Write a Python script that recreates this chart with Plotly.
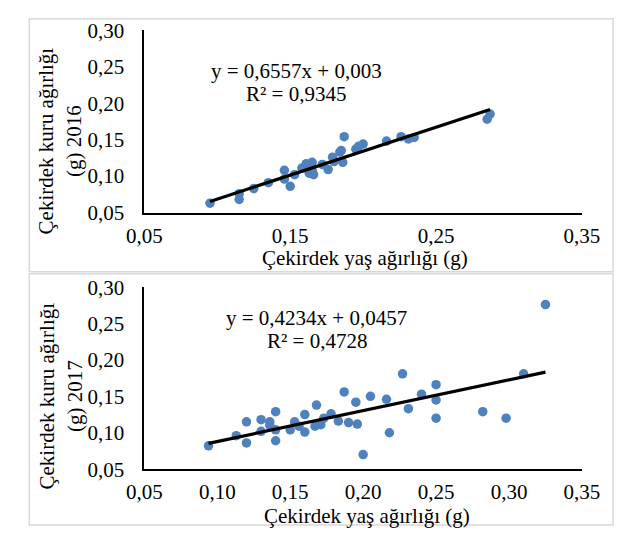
import plotly.graph_objects as go

# 2016 kernel weights (g): fresh vs dry
x2016 = [0.095, 0.115, 0.115, 0.125, 0.135, 0.146, 0.146, 0.150, 0.153, 0.158,
         0.161, 0.163, 0.165, 0.165, 0.166, 0.172, 0.176, 0.179, 0.180, 0.184,
         0.185, 0.187, 0.186, 0.195, 0.197, 0.200, 0.216, 0.226, 0.231, 0.235,
         0.285, 0.287]
y2016 = [0.063, 0.076, 0.068, 0.083, 0.091, 0.108, 0.096, 0.086, 0.102, 0.111,
         0.117, 0.104, 0.119, 0.108, 0.102, 0.116, 0.109, 0.126, 0.120, 0.133,
         0.135, 0.154, 0.119, 0.137, 0.141, 0.144, 0.148, 0.154, 0.151, 0.153,
         0.178, 0.185]

# 2017 kernel weights (g): fresh vs dry
x2017 = [0.094, 0.113, 0.120, 0.120, 0.130, 0.130, 0.136, 0.136, 0.140, 0.140,
         0.140, 0.150, 0.153, 0.156, 0.160, 0.160, 0.167, 0.168, 0.171, 0.173,
         0.178, 0.183, 0.187, 0.190, 0.195, 0.196, 0.200, 0.205, 0.216, 0.218,
         0.227, 0.231, 0.240, 0.250, 0.250, 0.250, 0.282, 0.298, 0.310, 0.325]
y2017 = [0.082, 0.096, 0.115, 0.086, 0.118, 0.102, 0.115, 0.110, 0.129, 0.104,
         0.089, 0.104, 0.115, 0.109, 0.125, 0.101, 0.109, 0.138, 0.111, 0.120,
         0.126, 0.116, 0.156, 0.114, 0.142, 0.112, 0.070, 0.150, 0.146, 0.100,
         0.181, 0.133, 0.153, 0.166, 0.145, 0.120, 0.129, 0.120, 0.181, 0.276]

# Linear trend coefficients (slope, intercept) and R² for each year
fit2016 = (0.6557, 0.003, 0.9345)
fit2017 = (0.4234, 0.0457, 0.4728)

y_ticks = [0.05, 0.10, 0.15, 0.20, 0.25, 0.30]
x_ticks_2016 = [0.05, 0.15, 0.25, 0.35]
x_ticks_2017 = [0.05, 0.10, 0.15, 0.20, 0.25, 0.30, 0.35]

W, H = 632, 538
FONT = "Liberation Serif"
BLUE = "#4F81BD"


def px(x):
    return x / W


def py(y):
    return 1 - y / H


def comma(v, nd):
    return f"{v:.{nd}f}".replace(".", ",")


fig = go.Figure()

for xs, ys, fit, xa, ya in [(x2016, y2016, fit2016, "x", "y"),
                            (x2017, y2017, fit2017, "x2", "y2")]:
    fig.add_trace(go.Scatter(x=xs, y=ys, mode="markers", xaxis=xa, yaxis=ya,
                             marker=dict(size=9.5, color=BLUE), showlegend=False))
    x0, x1 = min(xs), max(xs)
    fig.add_trace(go.Scatter(x=[x0, x1], y=[fit[0] * x0 + fit[1], fit[0] * x1 + fit[1]],
                             mode="lines", xaxis=xa, yaxis=ya,
                             line=dict(color="black", width=3.2), showlegend=False))

axis_common = dict(showgrid=False, zeroline=False, showline=True, linecolor="black",
                   linewidth=1.6, ticks="", tickfont=dict(family=FONT, size=21, color="black"))

fig.update_layout(
    width=W, height=H,
    margin=dict(l=0, r=0, t=0, b=0),
    paper_bgcolor="white", plot_bgcolor="white",
    separators=",.",
    font=dict(family=FONT, size=21, color="black"),
    xaxis=dict(domain=[px(134), px(598)], range=[0.05, 0.35], tickvals=x_ticks_2016,
               tickformat=".2f", anchor="y", ticklabelstandoff=3, **axis_common),
    yaxis=dict(domain=[py(210), py(19)], range=[0.05, 0.30], tickvals=y_ticks,
               tickformat=".2f", anchor="x", ticklabelstandoff=14, **axis_common),
    xaxis2=dict(domain=[px(134), px(598)], range=[0.05, 0.35], tickvals=x_ticks_2017,
                tickformat=".2f", anchor="y2", ticklabelstandoff=3, **axis_common),
    yaxis2=dict(domain=[py(478.5), py(288)], range=[0.05, 0.30], tickvals=y_ticks,
                tickformat=".2f", anchor="x2", ticklabelstandoff=14, **axis_common),
)

# Panel frames
frame = dict(type="rect", xref="paper", yref="paper",
             line=dict(color="#d9d9d9", width=1.5), fillcolor="rgba(0,0,0,0)", layer="below")
fig.add_shape(x0=px(12), x1=px(631), y0=py(272), y1=py(7), **frame)
fig.add_shape(x0=px(12), x1=px(631), y0=py(537), y1=py(274), **frame)


def note(x, y, text, angle=0):
    fig.add_annotation(x=px(x), y=py(y), xref="paper", yref="paper", text=text,
                       showarrow=False, textangle=angle, xanchor="center", yanchor="middle",
                       font=dict(family=FONT, size=21, color="black"))


for fit, cx, cy in [(fit2016, 295, 62), (fit2017, 317, 320)]:
    slope, icpt, r2 = fit
    nd = len(str(icpt).split(".")[1])
    note(cx, cy, f"y = {comma(slope, 4)}x + {comma(icpt, nd)}")
    note(cx, cy + 24, f"R² = {comma(r2, 4)}")

note(368, 257, "Çekirdek yaş ağırlığı (g)")
note(370, 528, "Çekirdek yaş ağırlığı (g)")
note(45, 135, "Çekirdek kuru ağırlığı<br>(g) 2016", angle=-90)
note(45, 402, "Çekirdek kuru ağırlığı<br>(g) 2017", angle=-90)

fig.write_html("out.html")
